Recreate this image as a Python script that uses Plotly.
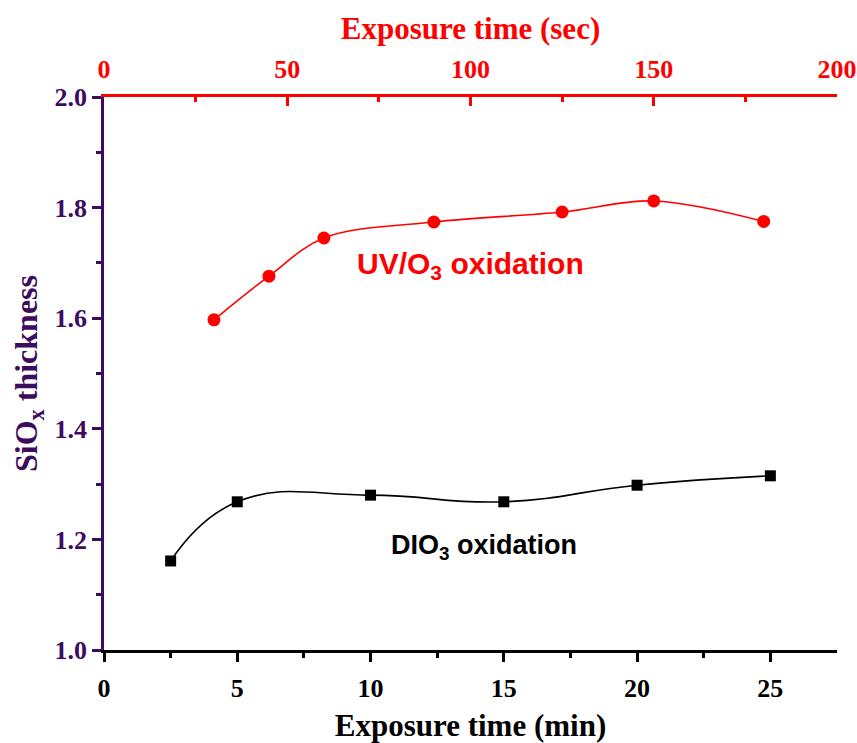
import plotly.graph_objects as go

# DIO3 oxidation (bottom axis, minutes)
dio3_min = [2.5, 5, 10, 15, 20, 25]
dio3_thk = [1.161, 1.268, 1.280, 1.268, 1.298, 1.315]

# UV/O3 oxidation (top axis, seconds)
uv_sec = [30, 45, 60, 90, 125, 150, 180]
uv_thk = [1.597, 1.676, 1.745, 1.774, 1.792, 1.812, 1.775]

purple = "#3E0C5E"
red = "#FF0000"
serif = "Liberation Serif, Times New Roman, serif"
sans = "Liberation Sans, Arial, sans-serif"

fig = go.Figure()
fig.add_trace(go.Scatter(
    x=dio3_min, y=dio3_thk, mode="lines+markers",
    line=dict(color="black", width=1.6, shape="spline", smoothing=1.3),
    marker=dict(symbol="square", size=11, color="black"),
    xaxis="x", yaxis="y", showlegend=False))
fig.add_trace(go.Scatter(
    x=uv_sec, y=uv_thk, mode="lines+markers",
    line=dict(color=red, width=1.6, shape="spline", smoothing=1.0),
    marker=dict(symbol="circle", size=13, color=red),
    xaxis="x2", yaxis="y", showlegend=False))

fig.update_layout(
    width=857, height=743,
    margin=dict(l=104, r=20, t=97, b=93),
    plot_bgcolor="white", paper_bgcolor="white",
    xaxis=dict(
        range=[0, 27.5], tickvals=[0, 5, 10, 15, 20, 25],
        automargin=False,
        showline=True, linecolor="black", linewidth=2.5,
        ticks="outside", ticklen=9, tickwidth=2.5, tickcolor="black",
        ticklabelstandoff=4,
        minor=dict(tickvals=[2.5, 7.5, 12.5, 17.5, 22.5], ticks="outside",
                   ticklen=5, tickwidth=2.5, tickcolor="black"),
        showgrid=False, zeroline=False,
        tickfont=dict(family=serif, size=26, color="black", weight="bold"),
        title=dict(text="<b>Exposure time (min)</b>",
                   font=dict(family=serif, size=31, color="black"), standoff=13),
    ),
    xaxis2=dict(
        range=[0, 200], overlaying="x", side="top", anchor="y",
        automargin=False,
        tickvals=[0, 50, 100, 150, 200],
        showline=True, linecolor=red, linewidth=2.5,
        ticks="inside", ticklen=9, tickwidth=2.5, tickcolor=red,
        ticklabelstandoff=6,
        minor=dict(tickvals=[25, 75, 125, 175], ticks="inside",
                   ticklen=5, tickwidth=2.5, tickcolor=red),
        showgrid=False, zeroline=False,
        tickfont=dict(family=serif, size=26, color=red, weight="bold"),
        title=dict(text="<b>Exposure time (sec)</b>",
                   font=dict(family=serif, size=31, color=red), standoff=6),
    ),
    yaxis=dict(
        range=[1.0, 2.0], tickvals=[1.0, 1.2, 1.4, 1.6, 1.8, 2.0],
        tickformat=".1f", automargin=False,
        showline=True, linecolor=purple, linewidth=2.5,
        ticks="outside", ticklen=9, tickwidth=2.5, tickcolor=purple,
        minor=dict(tickvals=[1.1, 1.3, 1.5, 1.7, 1.9], ticks="outside",
                   ticklen=5, tickwidth=2.5, tickcolor=purple),
        showgrid=False, zeroline=False,
        tickfont=dict(family=serif, size=26, color=purple, weight="bold"),
        title=dict(text="<b>SiO<sub>x</sub> thickness</b>",
                   font=dict(family=serif, size=32, color=purple), standoff=8),
    ),
    yaxis2=dict(
        range=[1.0, 2.0], overlaying="y", side="right", anchor="x",
        automargin=False,
        showline=True, linecolor="black", linewidth=2.5,
        showticklabels=False, ticks="", showgrid=False, zeroline=False,
    ),
    annotations=[
        dict(x=13.75, y=1.696, xref="x", yref="y", showarrow=False,
             text="<b>UV/O<sub>3</sub> oxidation</b>",
             font=dict(family=sans, size=30, color=red)),
        dict(x=14.25, y=1.186, xref="x", yref="y", showarrow=False,
             text="<b>DIO<sub>3</sub> oxidation</b>",
             font=dict(family=sans, size=27, color="black")),
    ],
)

fig.write_html("out.html")
